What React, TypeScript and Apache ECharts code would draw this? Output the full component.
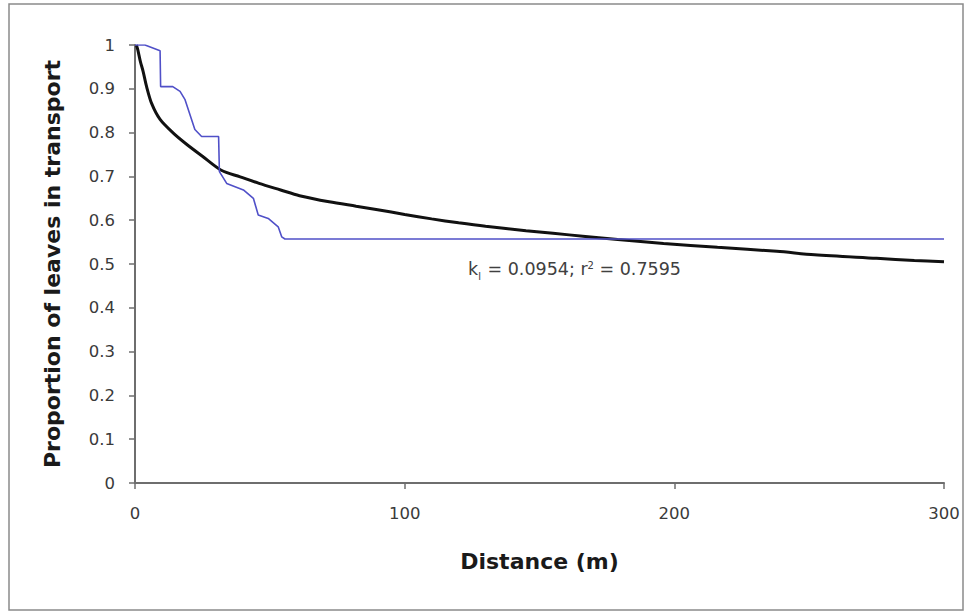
import React, { useEffect, useRef } from "react";
import * as echarts from "echarts";

// Observed proportion of leaves still in transport (blue step curve)
const observedDistance = [0, 3.7, 9.3, 9.5, 14, 16.7, 18.5, 22.2, 24.7, 31, 31.3, 34, 40.2, 43.9, 45.7, 49.4, 53.1, 54.4, 55.6, 300];
const observedProportion = [1.0, 1.0, 0.987, 0.905, 0.905, 0.894, 0.876, 0.807, 0.791, 0.791, 0.711, 0.684, 0.669, 0.65, 0.612, 0.604, 0.585, 0.562, 0.557, 0.557];

// Fitted curve (black)
const fittedDistance = [0.5, 1, 2, 3, 4.3, 6.2, 9.3, 14, 19, 25, 32, 39, 46, 54, 61, 72, 82, 90, 100, 110, 120, 130, 145, 155, 167, 179, 196, 216, 238, 252, 275, 289, 300];
const fittedProportion = [1.0, 0.99, 0.962, 0.94, 0.905, 0.866, 0.83, 0.8, 0.774, 0.746, 0.714, 0.699, 0.684, 0.669, 0.656, 0.642, 0.632, 0.624, 0.613, 0.603, 0.594, 0.586, 0.576, 0.57, 0.563, 0.556, 0.547, 0.538, 0.529, 0.521, 0.513, 0.508, 0.505];

const xTitle = "Distance (m)";
const yTitle = "Proportion of leaves in transport";

export default function App() {
  const ref = useRef<HTMLDivElement>(null);
  useEffect(() => {
    if (!ref.current) return;
    const chart = echarts.init(ref.current, undefined, { renderer: "svg" });
    const observed = observedDistance.map((d, i) => [d, observedProportion[i]]);
    const fitted = fittedDistance.map((d, i) => [d, fittedProportion[i]]);
    chart.setOption({
      animation: false,
      backgroundColor: "#ffffff",
      grid: { left: 135, right: 20, top: 45, bottom: 128, containLabel: false },
      xAxis: {
        type: "value",
        min: 0,
        max: 300,
        interval: 100,
        name: xTitle,
        nameLocation: "middle",
        nameGap: 67,
        nameTextStyle: { fontFamily: "DejaVu Sans", fontWeight: "bold", fontSize: 22, color: "#1a1a1a" },
        axisLine: { lineStyle: { color: "#6e6e6e", width: 2 } },
        axisTick: { show: true, length: 6, lineStyle: { color: "#6e6e6e", width: 1.5 } },
        axisLabel: { margin: 22, fontFamily: "DejaVu Sans", fontSize: 16.5, color: "#3a3a3a" },
        splitLine: { show: false },
      },
      yAxis: {
        type: "value",
        min: 0,
        max: 1,
        interval: 0.1,
        name: yTitle,
        nameLocation: "middle",
        nameGap: 72,
        nameTextStyle: { fontFamily: "DejaVu Sans", fontWeight: "bold", fontSize: 22, color: "#1a1a1a" },
        axisLine: { show: true, lineStyle: { color: "#6e6e6e", width: 2 } },
        axisTick: { show: true, length: 6, lineStyle: { color: "#6e6e6e", width: 1.5 } },
        axisLabel: { margin: 20, fontFamily: "DejaVu Sans", fontSize: 16.5, color: "#3a3a3a" },
        splitLine: { show: false },
      },
      series: [
        {
          name: "Fitted",
          type: "line",
          data: fitted,
          showSymbol: false,
          smooth: 0.3,
          lineStyle: { color: "#111111", width: 3 },
          z: 2,
        },
        {
          name: "Observed",
          type: "line",
          data: observed,
          showSymbol: false,
          lineStyle: { color: "#5050c8", width: 1.6 },
          z: 3,
        },
      ],
      graphic: [
        {
          type: "rect",
          shape: { x: 9, y: 4, width: 954, height: 606 },
          style: { fill: "none", stroke: "#8a8a8a", lineWidth: 1.5 },
          silent: true,
          z: -1,
        },
        {
          type: "text",
          left: 468,
          top: 260,
          style: {
            text: "{a|k}{s|l}{a| = 0.0954; r}{p|2}{a| = 0.7595}",
            rich: {
              a: { fontFamily: "DejaVu Sans", fontSize: 17.5, fill: "#404040", verticalAlign: "bottom" },
              s: { fontFamily: "DejaVu Sans", fontSize: 10, fill: "#404040", verticalAlign: "bottom", padding: [0, 1, -3, 0] },
              p: { fontFamily: "DejaVu Sans", fontSize: 10, fill: "#404040", verticalAlign: "top" },
            },
          },
        },
      ],
    });
    return () => chart.dispose();
  }, []);
  return <div ref={ref} style={{ position: "absolute", left: 0, top: 0, width: 964, height: 611 }} />;
}
